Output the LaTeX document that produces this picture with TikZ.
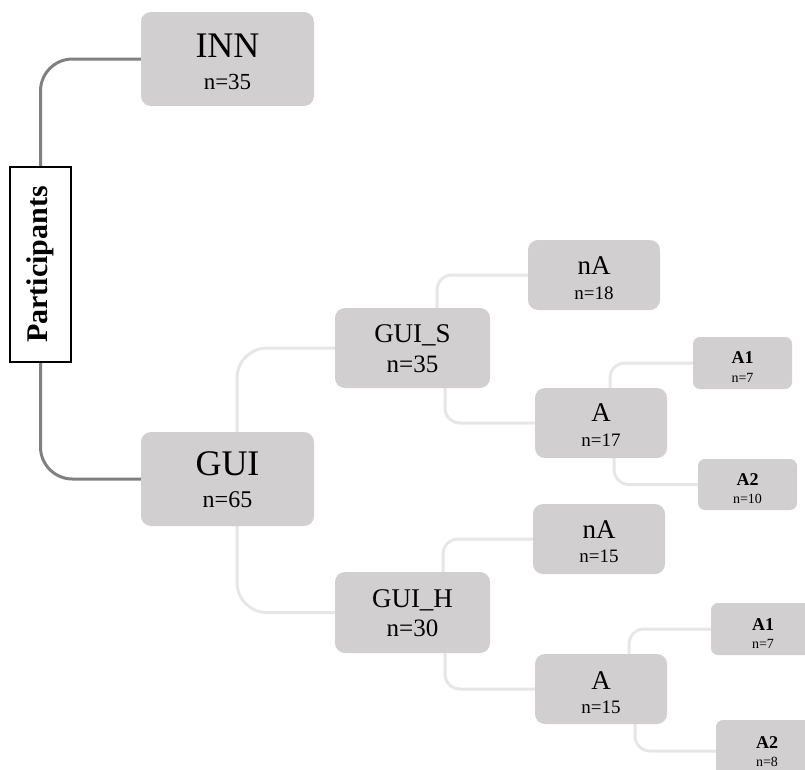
\documentclass[tikz,border=0pt]{standalone}
\usepackage{fontspec}
\setmainfont{Liberation Serif}
\usetikzlibrary{backgrounds}
\definecolor{boxgray}{HTML}{D1CFCF}
\definecolor{darkline}{HTML}{808080}
\definecolor{lightline}{HTML}{E6E6E6}
\newcommand\fs[1]{\fontsize{#1}{#1}\selectfont}
\begin{document}
\begin{tikzpicture}[x=1pt,y=-1pt,
  box/.style={fill=boxgray, rounded corners=10, inner sep=0pt},
  sbox/.style={fill=boxgray, rounded corners=7, inner sep=0pt},
  lbl/.style={anchor=base, inner sep=0pt},
  dconn/.style={draw=darkline, line width=3pt, rounded corners=32},
  lconn/.style={draw=lightline, line width=3pt, rounded corners=15},
  bconn/.style={draw=lightline, line width=3pt, rounded corners=30}]
\useasboundingbox (0,0) rectangle (805,769);
\clip (0,0) rectangle (805,769);

% boxes
\node[draw=black, line width=1.3pt, minimum width=61, minimum height=195, inner sep=0pt] (part) at (40.5,264.5) {\rotatebox{90}{\fs{30}\bfseries Participants}};

\node[box, minimum width=173, minimum height=94] (inn) at (227.5,59) {};
\node[lbl, font=\fs{36}] (innt) at (227.5,57) {INN};
\node[lbl, font=\fs{23}] (innn) at (227.5,89) {n=35};

\node[box, minimum width=173, minimum height=94] (gui) at (227.5,479) {};
\node[lbl, font=\fs{36}] (guit) at (227.5,475) {GUI};
\node[lbl, font=\fs{24}] (guin) at (227.5,507) {n=65};

\node[box, minimum width=155, minimum height=80] (gs) at (412.5,348) {};
\node[lbl, font=\fs{27}] (gst) at (412.5,342) {GUI\_S};
\node[lbl, font=\fs{25}] (gsn) at (412.5,372) {n=35};

\node[box, minimum width=155, minimum height=81] (gh) at (412.5,612.5) {};
\node[lbl, font=\fs{27}] (ght) at (412.5,607) {GUI\_H};
\node[lbl, font=\fs{25}] (ghn) at (412.5,636) {n=30};

\node[box, minimum width=132, minimum height=70] (nas) at (594,275) {};
\node[lbl, font=\fs{27}] (nast) at (594,274) {nA};
\node[lbl, font=\fs{19}] (nasn) at (594,299) {n=18};

\node[box, minimum width=132, minimum height=70] (as) at (601,423) {};
\node[lbl, font=\fs{27}] (ast) at (601,421) {A};
\node[lbl, font=\fs{19}] (asn) at (601,446) {n=17};

\node[sbox, minimum width=99, minimum height=52] (a1s) at (742.5,363) {};
\node[lbl, font=\fs{18}\bfseries] (a1st) at (742.5,363) {A1};
\node[lbl, font=\fs{14}] (a1sn) at (742.5,382) {n=7};

\node[sbox, minimum width=99, minimum height=51] (a2s) at (747.5,484.5) {};
\node[lbl, font=\fs{18}\bfseries] (a2st) at (747.5,485) {A2};
\node[lbl, font=\fs{14}] (a2sn) at (747.5,503) {n=10};

\node[box, minimum width=132, minimum height=70] (nah) at (599,539) {};
\node[lbl, font=\fs{27}] (naht) at (599,538) {nA};
\node[lbl, font=\fs{19}] (nahn) at (599,562) {n=15};

\node[box, minimum width=132, minimum height=70] (ah) at (601,689) {};
\node[lbl, font=\fs{27}] (aht) at (601,689) {A};
\node[lbl, font=\fs{19}] (ahn) at (601,713) {n=15};

\node[sbox, minimum width=104, minimum height=52] (a1h) at (763,629) {};
\node[lbl, font=\fs{18}\bfseries] (a1ht) at (763,630) {A1};
\node[lbl, font=\fs{14}] (a1hn) at (763,648) {n=7};

\node[sbox, minimum width=102, minimum height=62] (a2h) at (767,751) {};
\node[lbl, font=\fs{18}\bfseries] (a2ht) at (767,748) {A2};
\node[lbl, font=\fs{14}] (a2hn) at (767,766) {n=8};

% connectors
\begin{scope}[on background layer]
\draw[dconn] (part.north) |- (inn.west);
\draw[dconn] (part.south) |- (gui.west);
\draw[bconn] ([xshift=9.5pt]gui.north) |- (gs.west);
\draw[bconn] ([xshift=9.5pt]gui.south) |- (gh.west);
\draw[lconn] ([xshift=24.5pt]gs.north) |- (nas.west);
\draw[lconn] ([xshift=32.5pt]gs.south) |- (as.west);
\draw[lconn] ([xshift=9pt]as.north) |- (a1s.west);
\draw[lconn] ([xshift=13pt]as.south) |- (a2s.west);
\draw[lconn] ([xshift=30.5pt]gh.north) |- (nah.west);
\draw[lconn] ([xshift=32.5pt]gh.south) |- (ah.west);
\draw[lconn] ([xshift=28pt]ah.north) |- (a1h.west);
\draw[lconn] ([xshift=34pt]ah.south) |- (a2h.west);
\end{scope}
\end{tikzpicture}
\end{document}
